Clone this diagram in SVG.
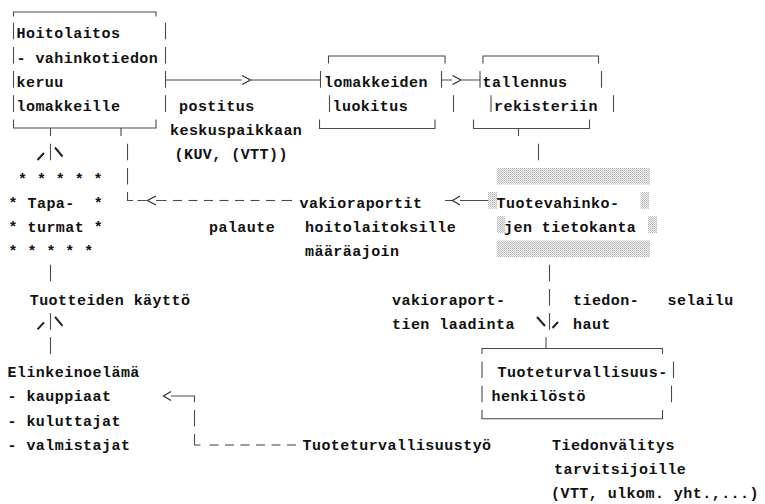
<svg xmlns="http://www.w3.org/2000/svg" width="765" height="504" viewBox="0 0 765 504">
  <style>
    text { font-family: "Liberation Mono", "DejaVu Sans Mono", monospace; font-weight: bold; font-size: 15px; letter-spacing: 0.45px; fill: #111; white-space: pre; }
    .ln { fill: none; stroke: #4a4a4a; stroke-width: 1.1; }
    .tk { fill: none; stroke: #222; stroke-width: 2; stroke-linecap: butt; }
    .th { fill: none; stroke: #333; stroke-width: 1.3; }
    .dash { stroke: #4a4a4a; stroke-width: 1.1; }
  </style>
  <defs>
    <!-- light shade fill for the database frame -->
    <pattern id="shade" width="2" height="2" patternUnits="userSpaceOnUse">
      <rect width="2" height="2" fill="#f2f2f2"/>
      <rect x="0" y="0" width="1" height="1" fill="#b4b4b4"/>
      <rect x="1" y="1" width="1" height="1" fill="#c6c6c6"/>
    </pattern>
  </defs>
  <rect width="765" height="504" fill="#ffffff"/>

  <!-- Box: Hoitolaitos -->
  <g id="hoitolaitos">
    <path class="ln" d="M13.5,16.5 V12 H156 V16.5 M13.5,119.5 V128 H156 V119.5
      M13.5,22.7 V39.3 M13.5,46.9 V63.5 M13.5,71.1 V87.7 M13.5,95.3 V111.9
      M165.5,22.7 V39.3 M165.5,46.9 V63.5 M165.5,71.1 V87.7 M165.5,95.3 V111.9"/>
    <text x="16.5" y="38.3">Hoitolaitos</text>
    <text x="16.5" y="62.5">- vahinkotiedon</text>
    <text x="16.5" y="86.7">keruu</text>
    <text x="16.5" y="110.9">lomakkeille</text>
  </g>

  <!-- Box: lomakkeiden luokitus -->
  <g id="luokitus">
    <path class="ln" d="M328.5,63.5 V56 H445 V63.5 M319.5,119.5 V128.5 H435 V119.5
      M320.5,71.1 V87.7 M441.5,71.1 V87.7 M329.5,95.3 V111.9 M453.5,95.3 V111.9"/>
    <text x="324" y="86.7">lomakkeiden</text>
    <text x="332.5" y="110.9">luokitus</text>
  </g>

  <!-- Box: tallennus rekisteriin -->
  <g id="tallennus">
    <path class="ln" d="M483,63.5 V56 H598.5 V63.5 M473.5,119.5 V128.5 H589.5 V119.5
      M480,71.1 V87.7 M601.5,71.1 V87.7 M491,95.3 V111.9 M613.5,95.3 V111.9"/>
    <text x="482.5" y="86.7">tallennus</text>
    <text x="494" y="110.9">rekisteriin</text>
  </g>

  <!-- Database: Tuotevahinkojen tietokanta -->
  <g id="tietokanta">
    <rect x="496.7" y="168" width="153.3" height="16.5" fill="url(#shade)"/>
    <rect x="488" y="192.1" width="9" height="16.6" fill="url(#shade)"/>
    <rect x="640.5" y="192.1" width="8.5" height="16.6" fill="url(#shade)"/>
    <rect x="497" y="216.3" width="8" height="16.6" fill="url(#shade)"/>
    <rect x="648" y="216.3" width="9" height="16.6" fill="url(#shade)"/>
    <rect x="496.7" y="240.5" width="153.3" height="16.5" fill="url(#shade)"/>
    <text x="496.5" y="207.7">Tuotevahinko-</text>
    <text x="504" y="231.9">jen tietokanta</text>
  </g>

  <!-- Star frame: Tapaturmat -->
  <g id="tapaturmat">
    <text x="18" y="183.5">* * * * *</text>
    <text x="8.6" y="207.7">* Tapa-  *</text>
    <text x="8.6" y="231.9">* turmat *</text>
    <text x="8.6" y="256.1">* * * * *</text>
  </g>

  <g id="kaytto">
    <text x="29.7" y="304.5">Tuotteiden käyttö</text>
  </g>

  <g id="elinkeinoelama">
    <text x="7.5" y="377.1">Elinkeinoelämä</text>
    <text x="7.5" y="401.3">- kauppiaat</text>
    <text x="7.5" y="425.5">- kuluttajat</text>
    <text x="7.5" y="449.7">- valmistajat</text>
  </g>

  <!-- Box: Tuoteturvallisuushenkilöstö -->
  <g id="henkilosto">
    <path class="ln" d="M482,353.9 V348.5 H662.5 V353.9 M482,409.9 V418.8 H662.5 V409.9
      M482,361.5 V378.1 M673.5,361.5 V378.1 M482,385.7 V402.3 M671.5,385.7 V402.3"/>
    <text x="497.5" y="377.1">Tuoteturvallisuus-</text>
    <text x="491.5" y="401.3">henkilöstö</text>
  </g>

  <g id="tiedonvalitys">
    <text x="552" y="449.7">Tiedonvälitys</text>
    <text x="554" y="473.9">tarvitsijoille</text>
    <text x="551" y="498.1">(VTT, ulkom. yht.,...)</text>
  </g>

  <!-- Connectors -->
  <g id="connectors">
    <!-- postitus keskuspaikkaan -->
    <path class="ln" d="M165.5,80 H241.5 M251,80 H320.5"/>
    <path class="th" d="M242,75.5 L250.5,80 L242,84.5"/>
    <!-- luokitus to tallennus -->
    <path class="ln" d="M441.5,80 H452 M462,80 H480"/>
    <path class="th" d="M452.5,75.5 L461,80 L452.5,84.5"/>
    <!-- tallennus down to the database -->
    <path class="ln" d="M518.5,128.5 V136.1 M538.5,143.7 V160.3"/>
    <!-- Hoitolaitos to and from Tapaturmat -->
    <path class="ln" d="M50.5,128 V136.1 M50.5,143.7 V160.3"/>
    <path class="tk" d="M37.5,160 L44,153 M55,147.5 L62.5,156.5"/>
    <!-- palaute back to Hoitolaitos -->
    <path class="ln" d="M121,128 V136.1 M127.5,143.7 V160.3 M127.5,167.9 V184.5 M127.5,192.1 V200.5 H133
      M137.5,200.5 H146.5 M156,200.5 H166.5"/>
    <path class="th" d="M156,196 L147.5,200.5 L156,205"/>
    <g class="dash">
      <line x1="173" y1="200.5" x2="182" y2="200.5"/>
      <line x1="188.5" y1="200.5" x2="197.5" y2="200.5"/>
      <line x1="204" y1="200.5" x2="213" y2="200.5"/>
      <line x1="219.5" y1="200.5" x2="228.5" y2="200.5"/>
      <line x1="235" y1="200.5" x2="244" y2="200.5"/>
      <line x1="250.5" y1="200.5" x2="259.5" y2="200.5"/>
      <line x1="266" y1="200.5" x2="275" y2="200.5"/>
      <line x1="281.5" y1="200.5" x2="292" y2="200.5"/>
    </g>
    <!-- vakioraportit from the database -->
    <path class="ln" d="M445,200.5 H452 M460,200.5 H488"/>
    <path class="th" d="M460,196 L452.5,200.5 L460,205"/>
    <!-- Tapaturmat / Tuotteiden käyttö / Elinkeinoelämä -->
    <path class="ln" d="M50.5,264.7 V281.3 M50.5,313.1 V329.7 M50.5,337.3 V353.9"/>
    <path class="tk" d="M37.5,329.4 L44,322.4 M55,316.9 L62.5,325.9"/>
    <!-- database down to Tuoteturvallisuushenkilöstö -->
    <path class="ln" d="M549.5,264.7 V281.3 M549.5,288.9 V305.5 M549.5,313.1 V329.7 M546,337.3 V348.5"/>
    <path class="tk" d="M537,317 L545,326 M552.5,328 L558,322"/>
    <!-- Tuoteturvallisuustyö to Elinkeinoelämä -->
    <path class="th" d="M171,391.5 L163.5,396 L171,400.5"/>
    <path class="ln" d="M171,396 H194.5 V402.3 M194.5,409.9 V426.5 M194.5,434.1 V445 H200.5"/>
    <g class="dash">
      <line x1="209.5" y1="445" x2="218.5" y2="445"/>
      <line x1="225" y1="445" x2="234" y2="445"/>
      <line x1="240.5" y1="445" x2="249.5" y2="445"/>
      <line x1="256" y1="445" x2="265" y2="445"/>
      <line x1="271.5" y1="445" x2="280.5" y2="445"/>
      <line x1="287" y1="445" x2="296" y2="445"/>
    </g>
    <!-- connector labels -->
    <text x="179" y="110.9">postitus</text>
    <text x="170" y="135.1">keskuspaikkaan</text>
    <text x="174.5" y="159.3">(KUV, (VTT))</text>
    <text x="299.5" y="207.7">vakioraportit</text>
    <text x="209" y="231.9">palaute</text>
    <text x="305" y="231.9">hoitolaitoksille</text>
    <text x="305" y="256.1">määräajoin</text>
    <text x="392" y="304.5">vakioraport-</text>
    <text x="392" y="328.7">tien laadinta</text>
    <text x="573" y="304.5">tiedon-</text>
    <text x="573" y="328.7">haut</text>
    <text x="667.5" y="304.5">selailu</text>
    <text x="302.5" y="449.7">Tuoteturvallisuustyö</text>
  </g>
</svg>
